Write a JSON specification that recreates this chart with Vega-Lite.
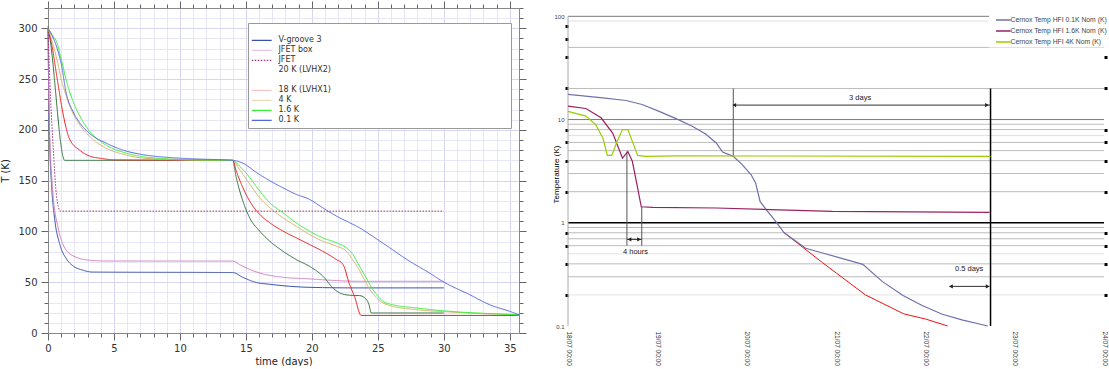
{
  "$schema": "https://vega.github.io/schema/vega-lite/v6.json",
  "padding": {"left": 0, "top": 0, "right": 0, "bottom": 0},
  "background": "white",
  "config": {"view": {"stroke": null}, "font": "Liberation Sans"},
  "spacing": 25,
  "resolve": {"scale": {"color": "independent", "strokeDash": "independent", "shape": "independent"}, "legend": {"color": "independent", "strokeDash": "independent"}},
  "datasets": {
    "left": [
      {"s":"V-groove 3","t":0,"T":300},{"s":"V-groove 3","t":0.1,"T":200},{"s":"V-groove 3","t":0.25,"T":150},{"s":"V-groove 3","t":0.5,"T":113},{"s":"V-groove 3","t":0.9,"T":87},{"s":"V-groove 3","t":1.4,"T":73},{"s":"V-groove 3","t":1.9,"T":66},{"s":"V-groove 3","t":2.6,"T":62},{"s":"V-groove 3","t":3.4,"T":60},{"s":"V-groove 3","t":14,"T":59.5},{"s":"V-groove 3","t":14.8,"T":54.6},{"s":"V-groove 3","t":15.8,"T":49.7},{"s":"V-groove 3","t":16.8,"T":48},{"s":"V-groove 3","t":18.3,"T":46},{"s":"V-groove 3","t":20.8,"T":44.7},{"s":"V-groove 3","t":23.6,"T":44.4},{"s":"V-groove 3","t":30,"T":44.4},
      {"s":"JFET box","t":0,"T":300},{"s":"JFET box","t":0.08,"T":219},{"s":"JFET box","t":0.38,"T":137},{"s":"JFET box","t":0.76,"T":104},{"s":"JFET box","t":1.14,"T":87},{"s":"JFET box","t":1.9,"T":76},{"s":"JFET box","t":3.16,"T":71.6},{"s":"JFET box","t":4.4,"T":70.9},{"s":"JFET box","t":14,"T":70.8},{"s":"JFET box","t":14.5,"T":67.5},{"s":"JFET box","t":15.3,"T":62.5},{"s":"JFET box","t":16.3,"T":58.2},{"s":"JFET box","t":17.8,"T":54.9},{"s":"JFET box","t":19.8,"T":53.3},{"s":"JFET box","t":21.85,"T":51.6},{"s":"JFET box","t":23.6,"T":50.9},{"s":"JFET box","t":30,"T":50.9},
      {"s":"JFET","t":0,"T":300},{"s":"JFET","t":0.2,"T":230},{"s":"JFET","t":0.38,"T":186},{"s":"JFET","t":0.63,"T":137},{"s":"JFET","t":0.93,"T":120},{"s":"JFET","t":30,"T":120},
      {"s":"20 K (LVHX2)","t":0,"T":302},{"s":"20 K (LVHX2)","t":0.15,"T":290},{"s":"20 K (LVHX2)","t":1.27,"T":170},{"s":"20 K (LVHX2)","t":14,"T":170},{"s":"20 K (LVHX2)","t":14.27,"T":153},{"s":"20 K (LVHX2)","t":14.77,"T":130},{"s":"20 K (LVHX2)","t":15.28,"T":113.6},{"s":"20 K (LVHX2)","t":16.04,"T":100.4},{"s":"20 K (LVHX2)","t":16.8,"T":90.5},{"s":"20 K (LVHX2)","t":17.8,"T":80.6},{"s":"20 K (LVHX2)","t":18.8,"T":72.4},{"s":"20 K (LVHX2)","t":19.8,"T":65.8},{"s":"20 K (LVHX2)","t":20.84,"T":55.9},{"s":"20 K (LVHX2)","t":21.6,"T":44.4},{"s":"20 K (LVHX2)","t":22.1,"T":39.5},{"s":"20 K (LVHX2)","t":22.86,"T":37.2},{"s":"20 K (LVHX2)","t":23.62,"T":36.8},{"s":"20 K (LVHX2)","t":24.0,"T":34.6},{"s":"20 K (LVHX2)","t":24.33,"T":27.9},{"s":"20 K (LVHX2)","t":24.45,"T":21.4},{"s":"20 K (LVHX2)","t":24.5,"T":19.7},{"s":"20 K (LVHX2)","t":30,"T":19.7},
      {"s":"18 K (LVHX1)","t":0,"T":300},{"s":"18 K (LVHX1)","t":0.3,"T":283},{"s":"18 K (LVHX1)","t":0.7,"T":250},{"s":"18 K (LVHX1)","t":1.2,"T":212},{"s":"18 K (LVHX1)","t":1.6,"T":192},{"s":"18 K (LVHX1)","t":2.4,"T":180},{"s":"18 K (LVHX1)","t":3.2,"T":174},{"s":"18 K (LVHX1)","t":4,"T":172},{"s":"18 K (LVHX1)","t":5,"T":170.5},{"s":"18 K (LVHX1)","t":14,"T":170},{"s":"18 K (LVHX1)","t":14.27,"T":159.5},{"s":"18 K (LVHX1)","t":14.77,"T":143.2},{"s":"18 K (LVHX1)","t":15.28,"T":130},{"s":"18 K (LVHX1)","t":16.04,"T":116.9},{"s":"18 K (LVHX1)","t":16.8,"T":108.6},{"s":"18 K (LVHX1)","t":17.8,"T":100.4},{"s":"18 K (LVHX1)","t":18.8,"T":93.8},{"s":"18 K (LVHX1)","t":19.8,"T":87.3},{"s":"18 K (LVHX1)","t":20.8,"T":80.6},{"s":"18 K (LVHX1)","t":21.85,"T":72.4},{"s":"18 K (LVHX1)","t":22.36,"T":67.5},{"s":"18 K (LVHX1)","t":22.86,"T":47.7},{"s":"18 K (LVHX1)","t":23.23,"T":36.1},{"s":"18 K (LVHX1)","t":23.74,"T":17.3},{"s":"18 K (LVHX1)","t":35.7,"T":17.3},
      {"s":"4 K","t":0,"T":300},{"s":"4 K","t":0.3,"T":288},{"s":"4 K","t":0.7,"T":268},{"s":"4 K","t":1.0,"T":250},{"s":"4 K","t":1.4,"T":233},{"s":"4 K","t":1.9,"T":216},{"s":"4 K","t":2.4,"T":205},{"s":"4 K","t":3.2,"T":193},{"s":"4 K","t":4.4,"T":182},{"s":"4 K","t":5.7,"T":176},{"s":"4 K","t":7,"T":172.5},{"s":"4 K","t":9,"T":171},{"s":"4 K","t":11,"T":170.3},{"s":"4 K","t":14,"T":170},{"s":"4 K","t":14.5,"T":161.3},{"s":"4 K","t":15.3,"T":146.5},{"s":"4 K","t":16.04,"T":133.3},{"s":"4 K","t":16.8,"T":123.5},{"s":"4 K","t":17.8,"T":113.6},{"s":"4 K","t":18.8,"T":105.3},{"s":"4 K","t":19.8,"T":97.1},{"s":"4 K","t":20.8,"T":90.5},{"s":"4 K","t":21.85,"T":85.6},{"s":"4 K","t":22.6,"T":80.6},{"s":"4 K","t":23.1,"T":72},{"s":"4 K","t":23.6,"T":62},{"s":"4 K","t":23.9,"T":54.3},{"s":"4 K","t":24.4,"T":42.8},{"s":"4 K","t":24.9,"T":34.6},{"s":"4 K","t":25.4,"T":29.6},{"s":"4 K","t":26.1,"T":26.3},{"s":"4 K","t":27.9,"T":23},{"s":"4 K","t":30.4,"T":20.7},{"s":"4 K","t":33,"T":19},{"s":"4 K","t":35.7,"T":18},
      {"s":"1.6 K","t":0,"T":300},{"s":"1.6 K","t":0.3,"T":294},{"s":"1.6 K","t":0.7,"T":285},{"s":"1.6 K","t":1.0,"T":270},{"s":"1.6 K","t":1.4,"T":248},{"s":"1.6 K","t":1.9,"T":228},{"s":"1.6 K","t":2.4,"T":214},{"s":"1.6 K","t":3.2,"T":198},{"s":"1.6 K","t":4.4,"T":185},{"s":"1.6 K","t":5.7,"T":178},{"s":"1.6 K","t":7,"T":174},{"s":"1.6 K","t":9,"T":171.5},{"s":"1.6 K","t":11,"T":170.5},{"s":"1.6 K","t":14,"T":170},{"s":"1.6 K","t":14.5,"T":164.5},{"s":"1.6 K","t":15.3,"T":153},{"s":"1.6 K","t":16.04,"T":139.9},{"s":"1.6 K","t":16.8,"T":128.3},{"s":"1.6 K","t":17.8,"T":118.5},{"s":"1.6 K","t":18.8,"T":108.6},{"s":"1.6 K","t":19.8,"T":100.4},{"s":"1.6 K","t":20.8,"T":93.8},{"s":"1.6 K","t":21.85,"T":88.9},{"s":"1.6 K","t":22.6,"T":84},{"s":"1.6 K","t":23.1,"T":77.4},{"s":"1.6 K","t":23.6,"T":66},{"s":"1.6 K","t":24.0,"T":57},{"s":"1.6 K","t":24.4,"T":47.7},{"s":"1.6 K","t":24.9,"T":37.8},{"s":"1.6 K","t":25.4,"T":31.2},{"s":"1.6 K","t":26.1,"T":27.9},{"s":"1.6 K","t":27.9,"T":24.7},{"s":"1.6 K","t":30.4,"T":21.4},{"s":"1.6 K","t":33,"T":19.4},{"s":"1.6 K","t":35.7,"T":18},
      {"s":"0.1 K","t":0,"T":300},{"s":"0.1 K","t":0.3,"T":293},{"s":"0.1 K","t":0.7,"T":280},{"s":"0.1 K","t":1.0,"T":265},{"s":"0.1 K","t":1.4,"T":235},{"s":"0.1 K","t":1.9,"T":218},{"s":"0.1 K","t":2.4,"T":207},{"s":"0.1 K","t":3.2,"T":196},{"s":"0.1 K","t":4.4,"T":187},{"s":"0.1 K","t":5.7,"T":180},{"s":"0.1 K","t":7,"T":176},{"s":"0.1 K","t":9,"T":173},{"s":"0.1 K","t":11,"T":171.5},{"s":"0.1 K","t":14,"T":170},{"s":"0.1 K","t":14.8,"T":167},{"s":"0.1 K","t":15.8,"T":158},{"s":"0.1 K","t":16.8,"T":150},{"s":"0.1 K","t":17.8,"T":143},{"s":"0.1 K","t":18.8,"T":136.6},{"s":"0.1 K","t":19.8,"T":131.7},{"s":"0.1 K","t":20.8,"T":123.5},{"s":"0.1 K","t":21.85,"T":115.2},{"s":"0.1 K","t":22.86,"T":108.6},{"s":"0.1 K","t":23.6,"T":103.7},{"s":"0.1 K","t":24.4,"T":97},{"s":"0.1 K","t":25.9,"T":83.9},{"s":"0.1 K","t":27.4,"T":70.7},{"s":"0.1 K","t":28.9,"T":59.2},{"s":"0.1 K","t":29.9,"T":50.9},{"s":"0.1 K","t":31.95,"T":37.8},{"s":"0.1 K","t":33.47,"T":27.9},{"s":"0.1 K","t":34.98,"T":21.4},{"s":"0.1 K","t":35.7,"T":18}
    ],
    "cernox": [
      {"s":"Cernox Temp HFI 0.1K Nom (K)","d":"2009-07-18T00:00","v":17.5},{"s":"Cernox Temp HFI 0.1K Nom (K)","d":"2009-07-18T09:22","v":16.2},{"s":"Cernox Temp HFI 0.1K Nom (K)","d":"2009-07-18T15:36","v":15.3},{"s":"Cernox Temp HFI 0.1K Nom (K)","d":"2009-07-18T19:55","v":14.0},{"s":"Cernox Temp HFI 0.1K Nom (K)","d":"2009-07-19T00:29","v":12.0},{"s":"Cernox Temp HFI 0.1K Nom (K)","d":"2009-07-19T05:02","v":10.2},{"s":"Cernox Temp HFI 0.1K Nom (K)","d":"2009-07-19T09:22","v":8.6},{"s":"Cernox Temp HFI 0.1K Nom (K)","d":"2009-07-19T12:58","v":7.24},{"s":"Cernox Temp HFI 0.1K Nom (K)","d":"2009-07-19T15:50","v":5.93},{"s":"Cernox Temp HFI 0.1K Nom (K)","d":"2009-07-19T17:31","v":4.85},{"s":"Cernox Temp HFI 0.1K Nom (K)","d":"2009-07-19T20:24","v":4.4},{"s":"Cernox Temp HFI 0.1K Nom (K)","d":"2009-07-19T22:48","v":3.66},{"s":"Cernox Temp HFI 0.1K Nom (K)","d":"2009-07-20T01:12","v":2.92},{"s":"Cernox Temp HFI 0.1K Nom (K)","d":"2009-07-20T02:24","v":2.43},{"s":"Cernox Temp HFI 0.1K Nom (K)","d":"2009-07-20T03:36","v":1.61},{"s":"Cernox Temp HFI 0.1K Nom (K)","d":"2009-07-20T05:02","v":1.37},{"s":"Cernox Temp HFI 0.1K Nom (K)","d":"2009-07-20T07:26","v":1.07},{"s":"Cernox Temp HFI 0.1K Nom (K)","d":"2009-07-20T10:05","v":0.8},{"s":"Cernox Temp HFI 0.1K Nom (K)","d":"2009-07-20T15:50","v":0.567},{"s":"Cernox Temp HFI 0.1K Nom (K)","d":"2009-07-20T20:24","v":0.51},{"s":"Cernox Temp HFI 0.1K Nom (K)","d":"2009-07-21T07:12","v":0.396},{"s":"Cernox Temp HFI 0.1K Nom (K)","d":"2009-07-21T12:29","v":0.269},{"s":"Cernox Temp HFI 0.1K Nom (K)","d":"2009-07-21T18:00","v":0.197},{"s":"Cernox Temp HFI 0.1K Nom (K)","d":"2009-07-21T23:17","v":0.157},{"s":"Cernox Temp HFI 0.1K Nom (K)","d":"2009-07-22T04:34","v":0.13},{"s":"Cernox Temp HFI 0.1K Nom (K)","d":"2009-07-22T10:05","v":0.114},{"s":"Cernox Temp HFI 0.1K Nom (K)","d":"2009-07-22T16:48","v":0.1},
      {"s":"Cernox Temp HFI 1.6K Nom (K)","d":"2009-07-18T00:00","v":13.5},{"s":"Cernox Temp HFI 1.6K Nom (K)","d":"2009-07-18T04:48","v":12.8},{"s":"Cernox Temp HFI 1.6K Nom (K)","d":"2009-07-18T08:53","v":10.4},{"s":"Cernox Temp HFI 1.6K Nom (K)","d":"2009-07-18T12:00","v":7.4},{"s":"Cernox Temp HFI 1.6K Nom (K)","d":"2009-07-18T14:38","v":4.24},{"s":"Cernox Temp HFI 1.6K Nom (K)","d":"2009-07-18T16:05","v":4.9},{"s":"Cernox Temp HFI 1.6K Nom (K)","d":"2009-07-18T17:17","v":3.94},{"s":"Cernox Temp HFI 1.6K Nom (K)","d":"2009-07-18T18:43","v":2.17},{"s":"Cernox Temp HFI 1.6K Nom (K)","d":"2009-07-18T19:41","v":1.43},{"s":"Cernox Temp HFI 1.6K Nom (K)","d":"2009-07-18T22:48","v":1.41},{"s":"Cernox Temp HFI 1.6K Nom (K)","d":"2009-07-19T15:50","v":1.39},{"s":"Cernox Temp HFI 1.6K Nom (K)","d":"2009-07-20T23:02","v":1.29},{"s":"Cernox Temp HFI 1.6K Nom (K)","d":"2009-07-22T17:17","v":1.26},
      {"s":"Cernox Temp HFI 4K Nom (K)","d":"2009-07-18T00:00","v":12.0},{"s":"Cernox Temp HFI 4K Nom (K)","d":"2009-07-18T04:48","v":10.8},{"s":"Cernox Temp HFI 4K Nom (K)","d":"2009-07-18T07:26","v":8.94},{"s":"Cernox Temp HFI 4K Nom (K)","d":"2009-07-18T09:22","v":6.63},{"s":"Cernox Temp HFI 4K Nom (K)","d":"2009-07-18T10:34","v":4.5},{"s":"Cernox Temp HFI 4K Nom (K)","d":"2009-07-18T11:46","v":4.5},{"s":"Cernox Temp HFI 4K Nom (K)","d":"2009-07-18T13:12","v":6.15},{"s":"Cernox Temp HFI 4K Nom (K)","d":"2009-07-18T14:38","v":8.0},{"s":"Cernox Temp HFI 4K Nom (K)","d":"2009-07-18T16:05","v":8.0},{"s":"Cernox Temp HFI 4K Nom (K)","d":"2009-07-18T17:17","v":6.15},{"s":"Cernox Temp HFI 4K Nom (K)","d":"2009-07-18T18:43","v":4.5},{"s":"Cernox Temp HFI 4K Nom (K)","d":"2009-07-18T20:53","v":4.4},{"s":"Cernox Temp HFI 4K Nom (K)","d":"2009-07-19T05:02","v":4.45},{"s":"Cernox Temp HFI 4K Nom (K)","d":"2009-07-22T17:31","v":4.4}
    ],
    "redbranch": [
      {"d":"2009-07-20T10:05","v":0.8},{"d":"2009-07-20T20:24","v":0.41},{"d":"2009-07-21T07:55","v":0.2},{"d":"2009-07-21T18:14","v":0.131},{"d":"2009-07-22T00:00","v":0.117},{"d":"2009-07-22T06:00","v":0.1}
    ],
    "grid": [
      {"v":100,"k":"major"},{"v":90,"k":"faint"},{"v":50,"k":"minor"},{"v":20,"k":"minor"},{"v":10,"k":"major"},{"v":9,"k":"minor"},{"v":8,"k":"minor"},{"v":7,"k":"faint"},{"v":6,"k":"minor"},{"v":5,"k":"minor"},{"v":4,"k":"minor"},{"v":3,"k":"minor"},{"v":2,"k":"minor"},{"v":1,"k":"axis"},{"v":0.9,"k":"minor"},{"v":0.8,"k":"minor"},{"v":0.7,"k":"minor"},{"v":0.6,"k":"minor"},{"v":0.5,"k":"faint"},{"v":0.4,"k":"minor"},{"v":0.3,"k":"minor"},{"v":0.2,"k":"faint"}
    ],
    "xticks": [
      {"d":"2009-07-18T00:00"},{"d":"2009-07-18T04:48"},{"d":"2009-07-18T09:36"},{"d":"2009-07-18T14:24"},{"d":"2009-07-18T19:12"},
      {"d":"2009-07-19T00:00"},{"d":"2009-07-19T04:48"},{"d":"2009-07-19T09:36"},{"d":"2009-07-19T14:24"},{"d":"2009-07-19T19:12"},
      {"d":"2009-07-20T00:00"},{"d":"2009-07-20T04:48"},{"d":"2009-07-20T09:36"},{"d":"2009-07-20T14:24"},{"d":"2009-07-20T19:12"},
      {"d":"2009-07-21T00:00"},{"d":"2009-07-21T04:48"},{"d":"2009-07-21T09:36"},{"d":"2009-07-21T14:24"},{"d":"2009-07-21T19:12"},
      {"d":"2009-07-22T00:00"},{"d":"2009-07-22T04:48"},{"d":"2009-07-22T09:36"},{"d":"2009-07-22T14:24"},{"d":"2009-07-22T19:12"},
      {"d":"2009-07-23T00:00"},{"d":"2009-07-23T04:48"},{"d":"2009-07-23T09:36"},{"d":"2009-07-23T14:24"},{"d":"2009-07-23T19:12"},
      {"d":"2009-07-24T00:00"}
    ],
    "vrules": [
      {"d":"2009-07-18T00:00","v":100,"v2":0.1,"k":"axis"},
      {"d":"2009-07-22T17:31","v":20,"v2":0.1,"k":"main"},
      {"d":"2009-07-19T20:24","v":20,"v2":4.4,"k":"thin"},
      {"d":"2009-07-18T15:50","v":4.9,"v2":0.6,"k":"thin"},
      {"d":"2009-07-18T19:49","v":1.43,"v2":0.6,"k":"thin"}
    ],
    "hrules": [
      {"d":"2009-07-19T20:24","d2":"2009-07-22T17:31","v":13.8},
      {"d":"2009-07-18T15:50","d2":"2009-07-18T19:49","v":0.69},
      {"d":"2009-07-22T06:29","d2":"2009-07-22T17:12","v":0.242}
    ],
    "heads": [
      {"d":"2009-07-19T20:40","v":13.8,"dir":"left"},{"d":"2009-07-22T16:33","v":13.8,"dir":"right"},
      {"d":"2009-07-18T16:32","v":0.69,"dir":"left"},{"d":"2009-07-18T19:05","v":0.69,"dir":"right"},
      {"d":"2009-07-22T06:53","v":0.242,"dir":"left"},{"d":"2009-07-22T16:45","v":0.242,"dir":"right"}
    ],
    "notes": [
      {"d":"2009-07-21T06:29","v":16.2,"t":"3 days"},
      {"d":"2009-07-18T18:08","v":0.526,"t":"4 hours"},
      {"d":"2009-07-22T11:46","v":0.355,"t":"0.5 days"}
    ]
  },
  "hconcat": [
    {
      "width": 471,
      "height": 325,
      "data": {"name": "left"},
      "layer": [
        {
          "mark": {"type": "line", "strokeWidth": 1, "interpolate": "monotone"},
          "encoding": {
            "x": {"field": "t", "type": "quantitative",
              "scale": {"domain": [0, 35.7], "nice": false, "zero": false},
              "axis": {"orient": "bottom", "values": [0,1,2,3,4,5,6,7,8,9,10,11,12,13,14,15,16,17,18,19,20,21,22,23,24,25,26,27,28,29,30,31,32,33,34,35],
                "labelExpr": "datum.value % 5 === 0 ? datum.label : ''",
                "tickSize": {"condition": {"test": "datum.value % 5 === 0", "value": 7}, "value": 4},
                "tickColor": "#666", "domainColor": "#888",
                "labelFont": "DejaVu Sans", "labelFontSize": 10, "labelColor": "#333", "labelPadding": 3, "labelOverlap": false, "labelFlush": false,
                "grid": true, "gridColor": {"condition": {"test": "datum.value % 5 === 0", "value": "#d6d6f2"}, "value": "#e6e6f8"},
                "title": "time (days)", "titleFont": "DejaVu Sans", "titleFontSize": 10, "titleFontWeight": "normal", "titleColor": "#222", "titlePadding": 3}},
            "y": {"field": "T", "type": "quantitative",
              "scale": {"domain": [0, 320], "nice": false},
              "axis": {"orient": "left", "values": [0,10,20,30,40,50,60,70,80,90,100,110,120,130,140,150,160,170,180,190,200,210,220,230,240,250,260,270,280,290,300,310,320],
                "labelExpr": "datum.value % 50 === 0 ? datum.label : ''",
                "tickSize": {"condition": {"test": "datum.value % 50 === 0", "value": 7}, "value": 4},
                "tickColor": "#666", "domainColor": "#888",
                "labelFont": "DejaVu Sans", "labelFontSize": 10, "labelColor": "#333", "labelPadding": 4, "labelOverlap": false,
                "grid": true, "gridColor": {"condition": {"test": "datum.value % 50 === 0", "value": "#d6d6f2"}, "value": "#e6e6f8"},
                "title": "T (K)", "titleFont": "DejaVu Sans", "titleFontSize": 10, "titleFontWeight": "normal", "titleColor": "#222", "titlePadding": 7}},
            "color": {"field": "s", "type": "nominal",
              "scale": {"domain": ["V-groove 3","JFET box","JFET","20 K (LVHX2)"," ","18 K (LVHX1)","4 K","1.6 K","0.1 K"],
                        "range": ["#3a50a8","#cf7fb9","#a3346f","#2f6f38","#ffffff","#ee1c1c","#d2b46a","#3cee3c","#5666dc"]},
              "legend": {"orient": "none", "legendX": 200, "legendY": 15,
                "title": "\u2800\u2800\u2800\u2800\u2800\u2800\u2800\u2800\u2800\u2800\u2800\u2800\u2800\u2800\u2800\u2800\u2800\u2800\u2800\u2800\u2800\u2800\u2800\u2800\u2800\u2800\u2800\u2800\u2800\u2800\u2800\u2800\u2800\u2800\u2800\u2800\u2800",
                "titleFont": "DejaVu Sans", "titleFontSize": 8.9, "titleLimit": 500, "titlePadding": 0, "titleColor": "#ffffff",
                "strokeColor": "#999", "fillColor": "#ffffff", "padding": 3,
                "symbolType": "M-1,0H3.2", "symbolSize": 90, "symbolStrokeWidth": 1.2,
                "labelFont": "DejaVu Sans", "labelFontSize": 8, "labelColor": "#333", "labelOffset": 16.5, "rowPadding": 0,
                "encode": {"symbols": {"update": {"opacity": {"signal": "datum.label === '20 K (LVHX2)' || datum.label === ' ' ? 0 : (datum.label === '18 K (LVHX1)' ? 0.25 : (datum.label === 'JFET box' || datum.label === '4 K' ? 0.45 : 1))"}}}}}},
            "strokeDash": {"field": "s", "type": "nominal",
              "scale": {"domain": ["V-groove 3","JFET box","JFET","20 K (LVHX2)"," ","18 K (LVHX1)","4 K","1.6 K","0.1 K"],
                        "range": [[1,0],[1,0],[1.5,1.5],[1,0],[1,0],[1,0],[1,0],[1,0],[1,0]]}}
          }
        },
        {
          "mark": {"type": "point", "opacity": 0},
          "encoding": {
            "x": {"field": "t", "type": "quantitative",
              "scale": {"domain": [0, 35.7], "nice": false, "zero": false},
              "axis": {"orient": "top", "values": [0,1,2,3,4,5,6,7,8,9,10,11,12,13,14,15,16,17,18,19,20,21,22,23,24,25,26,27,28,29,30,31,32,33,34,35],
                "labels": false, "grid": false, "title": null,
                "tickSize": {"condition": {"test": "datum.value % 5 === 0", "value": 7}, "value": 4},
                "tickColor": "#666", "domainColor": "#888"}},
            "y": {"field": "T", "type": "quantitative",
              "scale": {"domain": [0, 320], "nice": false},
              "axis": {"orient": "right", "values": [0,10,20,30,40,50,60,70,80,90,100,110,120,130,140,150,160,170,180,190,200,210,220,230,240,250,260,270,280,290,300,310,320],
                "labels": false, "grid": false, "title": null,
                "tickSize": {"condition": {"test": "datum.value % 50 === 0", "value": 7}, "value": 4},
                "tickColor": "#666", "domainColor": "#888"}}
          }
        }
      ],
      "resolve": {"axis": {"x": "independent", "y": "independent"}}
    },
    {
      "width": 536,
      "height": 318,
      "encoding": {
        "y": {"field": "v", "type": "quantitative", "scale": {"type": "log", "domain": [0.1, 120.4], "nice": false}, "axis": null}
      },
      "layer": [
        {
          "data": {"name": "grid"},
          "mark": {"type": "rule"},
          "encoding": {
            "color": {"condition": [{"test": "datum.k === 'axis'", "value": "#000000"}, {"test": "datum.k === 'major'", "value": "#7a7a7a"}, {"test": "datum.k === 'faint'", "value": "#e2e2e2"}], "value": "#bcbcbc"},
            "strokeWidth": {"condition": {"test": "datum.k === 'axis'", "value": 1.3}, "value": 1}
          }
        },
        {
          "data": {"name": "xticks"},
          "mark": {"type": "tick", "orient": "vertical", "size": 6, "thickness": 1, "color": "#000"},
          "encoding": {
            "x": {"field": "d", "type": "temporal", "scale": {"domain": [{"year": 2009, "month": 7, "date": 18}, {"year": 2009, "month": 7, "date": 24}]}, "axis": null},
            "y": {"datum": 1, "type": "quantitative", "scale": {"type": "log", "domain": [0.1, 120.4], "nice": false}, "axis": null}
          }
        },
        {
          "data": {"name": "vrules"},
          "mark": {"type": "rule"},
          "encoding": {
            "x": {"field": "d", "type": "temporal", "scale": {"domain": [{"year": 2009, "month": 7, "date": 18}, {"year": 2009, "month": 7, "date": 24}]}, "axis": null},
            "y2": {"field": "v2"},
            "color": {"condition": [{"test": "datum.k === 'main'", "value": "#000000"}, {"test": "datum.k === 'axis'", "value": "#aaaaaa"}], "value": "#555555"},
            "strokeWidth": {"condition": {"test": "datum.k === 'main'", "value": 1.5}, "value": 1}
          }
        },
        {
          "data": {"name": "hrules"},
          "mark": {"type": "rule", "color": "#333", "strokeWidth": 1},
          "encoding": {
            "x": {"field": "d", "type": "temporal", "scale": {"domain": [{"year": 2009, "month": 7, "date": 18}, {"year": 2009, "month": 7, "date": 24}]}, "axis": null},
            "x2": {"field": "d2"}
          }
        },
        {
          "data": {"name": "heads"},
          "mark": {"type": "point", "filled": true, "size": 18, "color": "#222", "opacity": 1},
          "encoding": {
            "x": {"field": "d", "type": "temporal", "scale": {"domain": [{"year": 2009, "month": 7, "date": 18}, {"year": 2009, "month": 7, "date": 24}]}, "axis": null},
            "shape": {"field": "dir", "type": "nominal", "scale": {"domain": ["left", "right"], "range": ["triangle-left", "triangle-right"]}, "legend": null}
          }
        },
        {
          "data": {"name": "notes"},
          "mark": {"type": "text", "font": "Liberation Sans", "fontSize": 7.5, "color": "#222", "align": "center", "baseline": "middle"},
          "encoding": {
            "x": {"field": "d", "type": "temporal", "scale": {"domain": [{"year": 2009, "month": 7, "date": 18}, {"year": 2009, "month": 7, "date": 24}]}, "axis": null},
            "text": {"field": "t"}
          }
        },
        {
          "data": {"name": "redbranch"},
          "mark": {"type": "line", "color": "#ee1111", "strokeWidth": 1},
          "encoding": {
            "x": {"field": "d", "type": "temporal", "scale": {"domain": [{"year": 2009, "month": 7, "date": 18}, {"year": 2009, "month": 7, "date": 24}]}, "axis": null}
          }
        },
        {
          "data": {"name": "cernox"},
          "mark": {"type": "line", "strokeWidth": 1.2},
          "encoding": {
            "x": {"field": "d", "type": "temporal", "scale": {"domain": [{"year": 2009, "month": 7, "date": 18}, {"year": 2009, "month": 7, "date": 24}]},
              "axis": {"orient": "bottom", "format": "%d/%m %H:%M", "tickCount": {"interval": "day", "step": 1},
                "labelAngle": 90, "labelAlign": "left", "labelBaseline": "middle", "labelPadding": 5,
                "ticks": false, "domain": false, "grid": false, "labelFont": "Liberation Sans", "labelFontSize": 6.5, "labelColor": "#333",
                "labelOverlap": false, "labelFlush": false, "title": null}},
            "y": {"field": "v", "type": "quantitative", "scale": {"type": "log", "domain": [0.1, 120.4], "nice": false},
              "axis": {"orient": "left", "values": [0.1,0.2,0.4,0.6,0.8,1,2,4,6,8,10,20,40,60,80,100],
                "labelExpr": "datum.value == 0.1 || datum.value == 1 || datum.value == 10 || datum.value == 100 ? datum.value : ''",
                "tickSize": 3, "tickWidth": 3, "tickColor": "#000", "tickCap": "butt",
                "tickOpacity": {"condition": {"test": "datum.value == 0.1 || datum.value == 1 || datum.value == 10 || datum.value == 100", "value": 0}, "value": 1},
                "domain": false, "grid": false,
                "labelFont": "Liberation Sans", "labelFontSize": 6, "labelColor": "#444", "labelPadding": 1, "labelOverlap": false,
                "title": "Temperature (K)", "titleFont": "Liberation Sans", "titleFontSize": 8, "titleFontWeight": "normal", "titleColor": "#000", "titlePadding": -7, "titleY": 166}},
            "color": {"field": "s", "type": "nominal",
              "scale": {"domain": ["Cernox Temp HFI 0.1K Nom (K)", "Cernox Temp HFI 1.6K Nom (K)", "Cernox Temp HFI 4K Nom (K)"], "range": ["#7070aa", "#9c2060", "#99cc00"]},
              "legend": {"orient": "none", "legendX": 421, "legendY": 3.5, "title": null, "fillColor": "#ffffff", "padding": 1.5,
                "symbolType": "M-0.25,0H2.2", "symbolSize": 144, "symbolStrokeWidth": 1.5,
                "labelFont": "Liberation Sans", "labelFontSize": 6.8, "labelColor": "#444", "labelOffset": 6, "rowPadding": 0, "labelLimit": 300}}
          }
        },
        {
          "data": {"name": "cernox"},
          "mark": {"type": "point", "opacity": 0},
          "encoding": {
            "x": {"field": "d", "type": "temporal", "scale": {"domain": [{"year": 2009, "month": 7, "date": 18}, {"year": 2009, "month": 7, "date": 24}]}, "axis": null},
            "y": {"field": "v", "type": "quantitative", "scale": {"type": "log", "domain": [0.1, 120.4], "nice": false},
              "axis": {"orient": "right", "values": [0.2,0.4,0.6,0.8,2,4,6,8,20,40,60,80],
                "labels": false, "domain": false, "grid": false, "title": null,
                "tickSize": 3, "tickWidth": 3, "tickColor": "#000", "tickCap": "butt"}}
          }
        }
      ],
      "resolve": {"axis": {"x": "independent", "y": "independent"}}
    }
  ]
}
